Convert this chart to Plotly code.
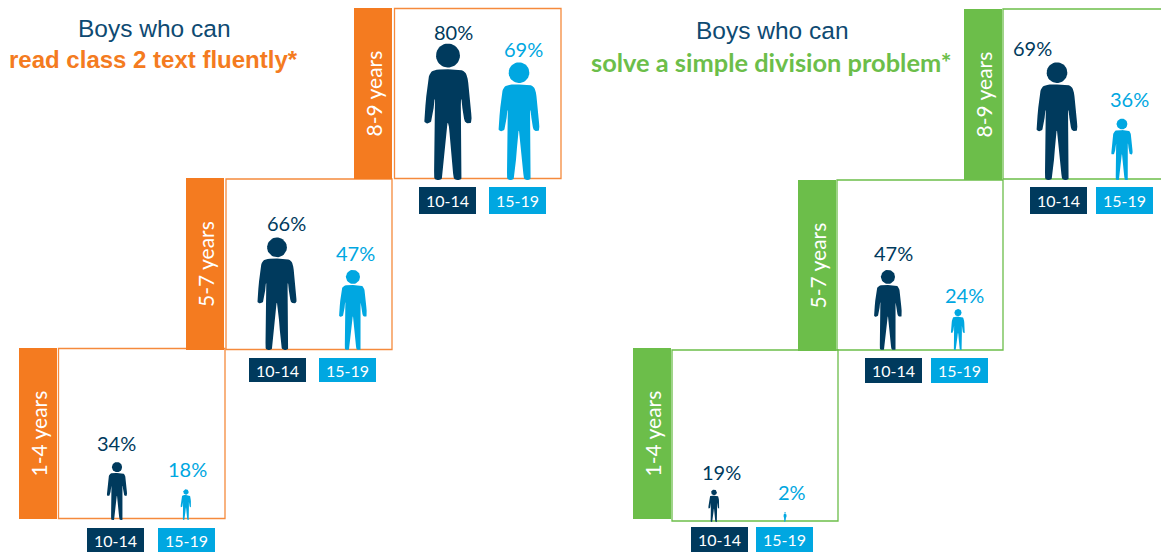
import numpy as np
import plotly.graph_objects as go

# ---- data ----
age_groups = ["10-14", "15-19"]
parent_classes = ["1-4 years", "5-7 years", "8-9 years"]
reading_10_14 = [34, 66, 80]
reading_15_19 = [18, 47, 69]
division_10_14 = [19, 47, 69]
division_15_19 = [2, 24, 36]
title_lead = "Boys who can"
title_reading = "read class 2 text fluently*"
title_division = "solve a simple division problem*"

# ---- style ----
ORANGE, ORANGE_LINE = "#F47B20", "#F58A3C"
GREEN, GREEN_LINE = "#6CBE4A", "#6CBE4A"
NAVY, CYAN = "#003A5D", "#00A7E1"
TITLE_NAVY = "#0E4A72"
PX_PER_PCT = 1.7
MIN_H = 10

# ---- layout geometry (axis units) ----
panels_left = [
    dict(tab=19, t0=348, t1=519, box=58.5, end=225, top=348.5, bot=518.5, cx=(117, 186), lx=(116, 187),
         lab=(443, 469), chip=(87, 158), chip_y=(528, 552), base=520),
    dict(tab=186, t0=178, t1=350, box=226, end=392, top=179, bot=349.5, cx=(277, 353), lx=(286, 355),
         lab=(223, 253), chip=(249, 319), chip_y=(358, 382), base=350),
    dict(tab=354, t0=8, t1=179, box=394.5, end=561, top=8.5, bot=178.5, cx=(448, 519), lx=(453, 523),
         lab=(32, 49), chip=(419, 489), chip_y=(187, 214), base=180),
]
panels_right = [
    dict(tab=633, t0=348, t1=519, box=672, end=838, top=350, bot=521, cx=(714, 785), lx=(721, 792),
         lab=(472, 492), chip=(691, 756), chip_y=(527, 552), base=522),
    dict(tab=798, t0=180, t1=351, box=837, end=1003, top=180, bot=350, cx=(888, 958), lx=(893, 964),
         lab=(253, 295), chip=(865, 931), chip_y=(358, 383), base=350),
    dict(tab=964, t0=9, t1=180, box=1003, end=1164, top=9, bot=179, cx=(1057, 1122), lx=(1032, 1129),
         lab=(48, 99), chip=(1030, 1096), chip_y=(187, 214), base=180),
]


def chaikin(p, n=3):
    p = np.asarray(p, float)
    for _ in range(n):
        q = [p[0]]
        for a, b in zip(p[:-1], p[1:]):
            q += [0.75 * a + 0.25 * b, 0.25 * a + 0.75 * b]
        q.append(p[-1])
        p = np.array(q)
    return p


# person outline, unit height, feet at 0; right half from the neck to the crotch
half = [(0, .815), (.10, .812), (.135, .785), (.150, .72), (.176, .44), (.170, .418), (.140, .415),
        (.115, .44), (.090, .680), (.105, .03), (.095, 0), (.050, 0), (.037, .03), (.006, .415), (0, .42)]
half = chaikin(half, 2)
body_unit = np.vstack([half, (half * [-1, 1])[::-1]])
th = np.linspace(0, 2 * np.pi, 40)
head_unit = np.c_[.088 * np.cos(th), .915 + .088 * np.sin(th)]


def person(fig, cx, base, value, color):
    h = max(MIN_H, value * PX_PER_PCT)
    for part in (body_unit, head_unit):
        fig.add_trace(go.Scatter(
            x=cx + part[:, 0] * h, y=base - part[:, 1] * h, mode="lines", fill="toself",
            fillcolor=color, line=dict(width=0, color=color), hoverinfo="skip", showlegend=False))


fig = go.Figure()
shapes, notes = [], []


def text(x, y, s, size, color, family="Lato", rot=0, bold=False):
    notes.append(dict(x=x, y=y, text=f"<b>{s}</b>" if bold else s, showarrow=False, textangle=rot,
                      font=dict(size=size, color=color, family=family),
                      xanchor="center", yanchor="middle"))


def panel_set(panels, young, old, fill, line):
    for p, label, a, b in zip(panels, parent_classes, young, old):
        shapes.append(dict(type="rect", x0=p["tab"], x1=p["tab"] + 38, y0=p["t0"], y1=p["t1"],
                           fillcolor=fill, line_width=0, layer="below"))
        shapes.append(dict(type="rect", x0=p["box"], x1=p["end"], y0=p["top"], y1=p["bot"],
                           fillcolor="rgba(0,0,0,0)", line=dict(color=line, width=1.3), layer="below"))
        text(p["tab"] + 19, (p["t0"] + p["t1"]) / 2, label, 21, "white", rot=-90)
        for i, (v, col) in enumerate(zip((a, b), (NAVY, CYAN))):
            person(fig, p["cx"][i], p["base"], v, col)
            text(p["lx"][i], p["lab"][i], f"{v}%", 20, col)
            shapes.append(dict(type="rect", x0=p["chip"][i], x1=p["chip"][i] + 57, y0=p["chip_y"][0],
                               y1=p["chip_y"][1], fillcolor=col, line_width=0, layer="below"))
            text(p["chip"][i] + 28.5, sum(p["chip_y"]) / 2, age_groups[i], 16, "white")


panel_set(panels_left, reading_10_14, reading_15_19, ORANGE, ORANGE_LINE)
panel_set(panels_right, division_10_14, division_15_19, GREEN, GREEN_LINE)

text(154, 28, title_lead, 24.5, TITLE_NAVY, family="Liberation Sans")
text(153, 59, title_reading, 24, ORANGE, family="Liberation Sans", bold=True)
text(772, 30, title_lead, 24.5, TITLE_NAVY, family="Liberation Sans")
text(771, 62, title_division, 25.4, GREEN, family="Lato", bold=True)

fig.update_layout(
    width=1161, height=552, margin=dict(l=0, r=0, t=0, b=0),
    paper_bgcolor="white", plot_bgcolor="white", showlegend=False,
    xaxis=dict(range=[0, 1161], visible=False, fixedrange=True),
    yaxis=dict(range=[552, 0], visible=False, fixedrange=True),
    shapes=shapes, annotations=notes,
)
fig.write_html("out.html", config=dict(displayModeBar=False),
               post_script="document.body.style.margin='0';document.body.style.overflow='hidden';")
